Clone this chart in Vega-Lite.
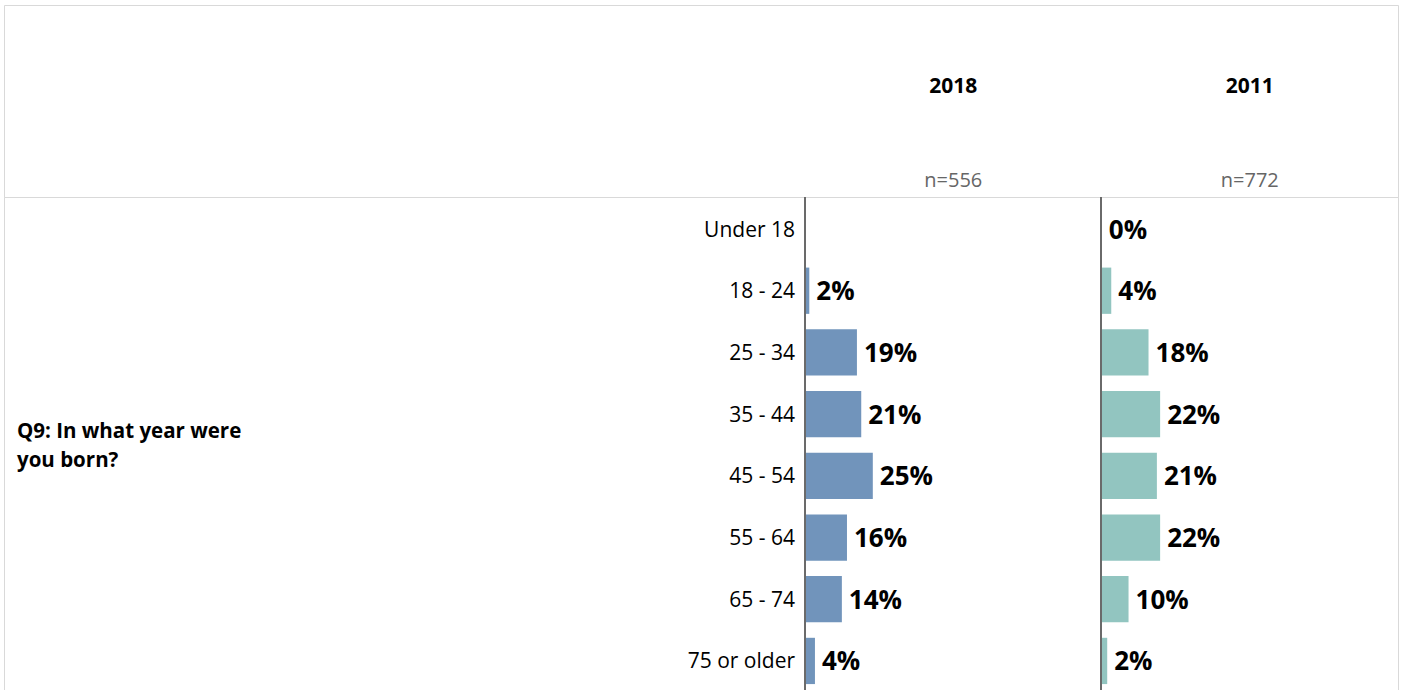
{
  "$schema": "https://vega.github.io/schema/vega-lite/v6.json",
  "padding": {"left": 3, "top": 4, "right": 0, "bottom": 0},
  "background": "white",
  "config": {
    "font": "Open Sans",
    "view": {"stroke": "#d9d9d9", "strokeWidth": 1},
    "concat": {"spacing": 0}
  },
  "datasets": {
    "header": [
      {"year": "2018", "n": "n=556"},
      {"year": "2011", "n": "n=772"}
    ],
    "ages": [
      {"age": "Under 18"}, {"age": "18 - 24"}, {"age": "25 - 34"}, {"age": "35 - 44"},
      {"age": "45 - 54"}, {"age": "55 - 64"}, {"age": "65 - 74"}, {"age": "75 or older"}
    ],
    "question": [
      {"q": "Q9: In what year were\nyou born?"}
    ],
    "survey": [
      {"year": "2018", "age": "18 - 24", "pct": 0.016},
      {"year": "2018", "age": "25 - 34", "pct": 0.193},
      {"year": "2018", "age": "35 - 44", "pct": 0.209},
      {"year": "2018", "age": "45 - 54", "pct": 0.252},
      {"year": "2018", "age": "55 - 64", "pct": 0.156},
      {"year": "2018", "age": "65 - 74", "pct": 0.137},
      {"year": "2018", "age": "75 or older", "pct": 0.037},
      {"year": "2011", "age": "Under 18", "pct": 0.003},
      {"year": "2011", "age": "18 - 24", "pct": 0.038},
      {"year": "2011", "age": "25 - 34", "pct": 0.176},
      {"year": "2011", "age": "35 - 44", "pct": 0.219},
      {"year": "2011", "age": "45 - 54", "pct": 0.207},
      {"year": "2011", "age": "55 - 64", "pct": 0.219},
      {"year": "2011", "age": "65 - 74", "pct": 0.102},
      {"year": "2011", "age": "75 or older", "pct": 0.023}
    ]
  },
  "spacing": 0,
  "bounds": "flush",
  "vconcat": [
    {
      "width": 1394,
      "height": 192,
      "data": {"name": "header"},
      "layer": [
        {
          "mark": {"type": "text", "fontSize": 21, "fontWeight": "bold", "color": "#000000", "baseline": "middle", "dy": -14},
          "encoding": {
            "x": {"field": "year", "type": "nominal", "sort": null, "axis": null,
                  "scale": {"type": "band", "domain": [" ", "2018", "2011"], "paddingInner": 0, "paddingOuter": 0.8508, "align": 1}},
            "text": {"field": "year"}
          }
        },
        {
          "mark": {"type": "text", "fontSize": 20, "color": "#666666", "baseline": "middle", "dy": 80},
          "encoding": {
            "x": {"field": "year", "type": "nominal", "sort": null, "axis": null,
                  "scale": {"type": "band", "domain": [" ", "2018", "2011"], "paddingInner": 0, "paddingOuter": 0.8508, "align": 1}},
            "text": {"field": "n"}
          }
        }
      ]
    },
    {
      "spacing": 0,
      "bounds": "flush",
      "hconcat": [
        {
          "width": 801,
          "height": 493,
          "layer": [
            {
              "data": {"name": "ages"},
              "mark": {"type": "text", "align": "right", "baseline": "middle", "dx": -10, "dy": 1.5, "fontSize": 21, "color": "#000000"},
              "encoding": {
                "y": {"field": "age", "type": "nominal", "axis": null,
                      "scale": {"type": "band", "domain": ["Under 18", "18 - 24", "25 - 34", "35 - 44", "45 - 54", "55 - 64", "65 - 74", "75 or older"], "paddingInner": 0.25, "paddingOuter": 0.12, "align": 0.6}},
                "x": {"datum": 1, "type": "quantitative", "axis": null, "scale": {"domain": [0, 1]}},
                "text": {"field": "age"}
              }
            },
            {
              "data": {"name": "question"},
              "mark": {"type": "text", "align": "left", "baseline": "middle", "dx": 13, "dy": -11.5, "fontSize": 20.5, "fontWeight": "bold", "color": "#000000", "lineBreak": "\n", "lineHeight": 29},
              "encoding": {
                "x": {"datum": 0, "type": "quantitative"},
                "text": {"field": "q"}
              }
            }
          ]
        },
        {
          "width": 296,
          "height": 493,
          "data": {"name": "survey"},
          "transform": [{"filter": "datum.year === '2018'"}],
          "layer": [
            {
              "mark": {"type": "bar", "color": "#7194bb"},
              "encoding": {
                "y": {"field": "age", "type": "nominal", "axis": null,
                      "scale": {"type": "band", "domain": ["Under 18", "18 - 24", "25 - 34", "35 - 44", "45 - 54", "55 - 64", "65 - 74", "75 or older"], "paddingInner": 0.25, "paddingOuter": 0.12, "align": 0.6}},
                "x": {"field": "pct", "type": "quantitative", "axis": null, "scale": {"domain": [0, 1.1]}}
              }
            },
            {
              "mark": {"type": "text", "align": "left", "baseline": "middle", "dx": 7, "dy": 1.5, "fontSize": 26, "fontWeight": "bold", "color": "#000000"},
              "encoding": {
                "y": {"field": "age", "type": "nominal"},
                "x": {"field": "pct", "type": "quantitative"},
                "text": {"field": "pct", "type": "quantitative", "format": ".0%"}
              }
            },
            {
              "mark": {"type": "rule", "color": "#6b6b6b", "strokeWidth": 1},
              "encoding": {"x": {"datum": 0, "type": "quantitative"}}
            }
          ]
        },
        {
          "width": 297,
          "height": 493,
          "data": {"name": "survey"},
          "transform": [{"filter": "datum.year === '2011'"}],
          "layer": [
            {
              "mark": {"type": "bar", "color": "#92c5c0"},
              "encoding": {
                "y": {"field": "age", "type": "nominal", "axis": null,
                      "scale": {"type": "band", "domain": ["Under 18", "18 - 24", "25 - 34", "35 - 44", "45 - 54", "55 - 64", "65 - 74", "75 or older"], "paddingInner": 0.25, "paddingOuter": 0.12, "align": 0.6}},
                "x": {"field": "pct", "type": "quantitative", "axis": null, "scale": {"domain": [0, 1.1]}}
              }
            },
            {
              "mark": {"type": "text", "align": "left", "baseline": "middle", "dx": 7, "dy": 1.5, "fontSize": 26, "fontWeight": "bold", "color": "#000000"},
              "encoding": {
                "y": {"field": "age", "type": "nominal"},
                "x": {"field": "pct", "type": "quantitative"},
                "text": {"field": "pct", "type": "quantitative", "format": ".0%"}
              }
            },
            {
              "mark": {"type": "rule", "color": "#6b6b6b", "strokeWidth": 1},
              "encoding": {"x": {"datum": 0, "type": "quantitative"}}
            }
          ]
        }
      ]
    }
  ]
}
